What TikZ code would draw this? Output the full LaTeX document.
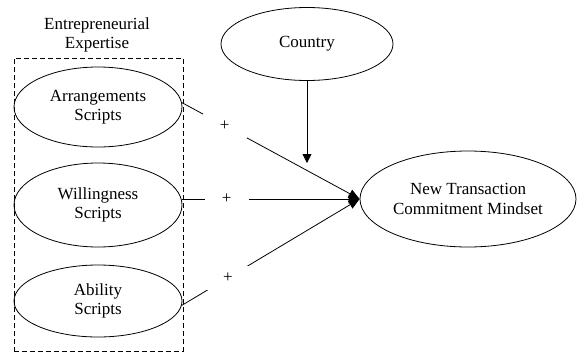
\documentclass[tikz,border=0pt]{standalone}
\usepackage{fontspec}
\setmainfont{Liberation Serif}
\usetikzlibrary{shapes.geometric,arrows.meta,positioning}
\tikzset{
	>={Triangle[length=9pt,width=9pt]},
	every node/.style={font=\fontsize{17}{19.5}\selectfont},
	construct/.style={draw, ellipse, line width=0.8pt, inner sep=0pt, align=center, minimum width=168pt, minimum height=80pt},
	plus/.style={fill=white, inner sep=0pt, minimum width=44pt, minimum height=24pt},
	link/.style={->, line width=0.8pt},
	effect/.style={-{Triangle[length=11pt,width=9pt]}, line width=0.8pt},
}

\begin{document}
\begin{tikzpicture}[x=1pt,y=-1pt]
	\useasboundingbox (0,0) rectangle (578,354);

	\node[construct] (arr) at (98,107) {Arrangements\\Scripts};
	\node[construct, minimum height=84pt] (will) at (98,205) {Willingness\\Scripts};
	\node[construct, minimum height=72pt] (abil) at (98,301) {Ability\\Scripts};
	\node[draw, dashed, dash pattern=on 5pt off 3pt, line width=0.8pt, minimum width=169pt, minimum height=293pt] (expertise) at (98.5,204.5) {};
	\node[align=center, inner sep=0pt] (title) at (97,35) {Entrepreneurial\\Expertise};

	\node[construct, minimum width=172pt, minimum height=73pt] (country) at (307,44) {Country};
	\node[construct, minimum width=216pt, minimum height=96pt] (ntcm) at (468,199) {New Transaction\\Commitment Mindset};
	\coordinate (meet) at (307,163);

	\draw[link] (country) -- (meet);
	\draw[effect] (arr.3) -- node[plus, pos=0.24] {+} (ntcm.west);
	\draw[effect] (will.east |- ntcm.west) -- node[plus, pos=0.25] {+} (ntcm.west);
	\draw[effect] (abil.-3) -- node[plus, pos=0.26] {+} (ntcm.west);
\end{tikzpicture}
\end{document}
